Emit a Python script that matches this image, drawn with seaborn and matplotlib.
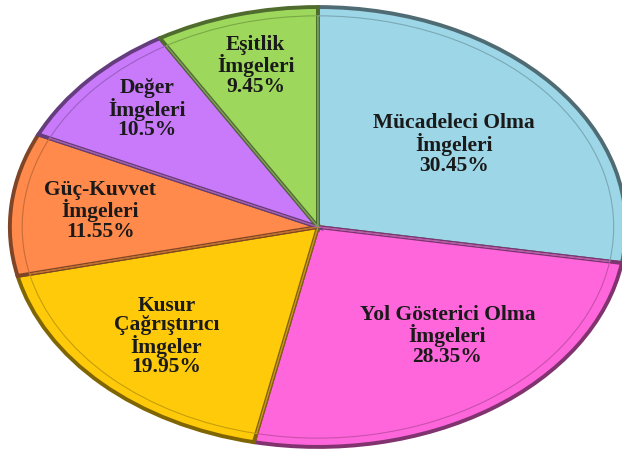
import numpy as np
import matplotlib
matplotlib.use("Agg")
import matplotlib.pyplot as plt
import matplotlib.colors as mcolors
import seaborn as sns

# data (clockwise from 12 o'clock)
labels = ["Mücadeleci Olma\nİmgeleri", "Yol Gösterici Olma\nİmgeleri",
          "Kusur\nÇağrıştırıcı\nİmgeler", "Güç-Kuvvet\nİmgeleri",
          "Değer\nİmgeleri", "Eşitlik\nİmgeleri"]
values = [30.45, 28.35, 19.95, 11.55, 10.5, 9.45]
pct_text = ["30.45%", "28.35%", "19.95%", "11.55%", "10.5%", "9.45%"]
colors = ["#9DD7E7", "#FF66DC", "#FFCA0A", "#FF8A4C", "#C97AFB", "#9DD75B"]
label_radius = [0.58, 0.65, 0.70, 0.71, 0.77, 0.76]
label_shift = [0, 6, 0, 0, -2, 0]   # degrees

sns.set_style("white")
plt.rcParams["font.family"] = ["Liberation Serif", "DejaVu Serif"]

fig = plt.figure(figsize=(6.22, 4.5), dpi=100)
ax = fig.add_axes([0, 0, 1, 1])

dark = [tuple(np.array(mcolors.to_rgb(c)) * 0.5) for c in colors]
mid = [tuple(np.array(mcolors.to_rgb(c)) * 0.78) for c in colors]

wedges, _ = ax.pie(values, colors=colors, startangle=90, counterclock=False,
                   wedgeprops=dict(linewidth=2.8))
for w, d in zip(wedges, dark):
    w.set_edgecolor(d)

# inner bevel line
inner, _ = ax.pie(values, colors=["none"] * len(values), startangle=90,
                  counterclock=False, radius=0.96,
                  wedgeprops=dict(linewidth=0.8))
for w, m in zip(inner, mid):
    w.set_edgecolor(m)
    w.set_facecolor("none")

for w, lab, p, r, s in zip(wedges, labels, pct_text, label_radius, label_shift):
    ang = np.deg2rad((w.theta1 + w.theta2) / 2 + s)
    ax.text(r * np.cos(ang), r * np.sin(ang), lab + "\n" + p,
            ha="center", va="center", fontsize=15.5, fontweight="bold",
            color="#1a1a1a", linespacing=0.97)

ax.set_aspect("auto")
ax.set_xlim(-1.032, 0.987)
ax.set_ylim(-1.014, 1.032)
ax.axis("off")

fig.savefig("out.png", dpi=100)
